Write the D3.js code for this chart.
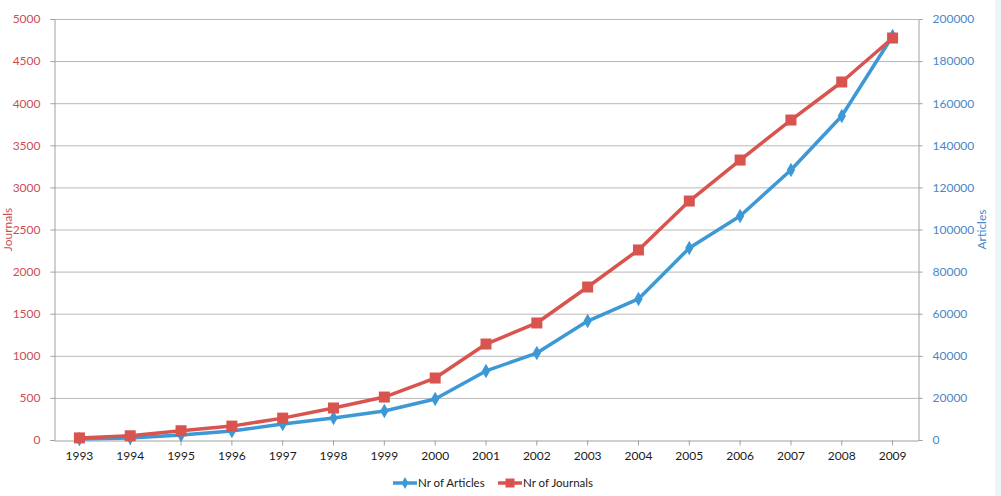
<!DOCTYPE html>
<html><head><meta charset="utf-8">
<script src="https://cdn.jsdelivr.net/npm/d3@7"></script>
<style>body{margin:0;background:#fff;} svg{display:block;font-family:Lato,"Open Sans",sans-serif;}</style>
</head><body>
<svg id="chart" width="1001" height="496"></svg>
<script>
const years = ["1993","1994","1995","1996","1997","1998","1999","2000","2001","2002","2003","2004","2005","2006","2007","2008","2009"];
const journals = [25,50,110,165,260,380,510,736,1140,1390,1817,2257,2838,3325,3800,4252,4774];
const articles = [500,1000,2400,4300,7600,10450,13800,19500,32800,41300,56500,67000,91200,106400,128300,153900,191900];
const leftTicks = [0,500,1000,1500,2000,2500,3000,3500,4000,4500,5000];
const rightTicks = [0,20000,40000,60000,80000,100000,120000,140000,160000,180000,200000];
const seriesNames = ["Nr of Articles","Nr of Journals"];

const svg = d3.select("#chart");
const L = 54, R = 918, T = 19, B = 440;
const red = "#d9534f", blue = "#3d98d6";
const redText = "#cc4f55", blueText = "#4a86c8";
const FONT = "Lato, 'Open Sans', sans-serif";

svg.append("rect").attr("x",995).attr("y",0).attr("width",6).attr("height",496).attr("fill","#eef5f7");

const x = d3.scaleBand().domain(years).range([L,R]);
const yL = d3.scaleLinear().domain([0,5000]).range([B,T]);
const yR = d3.scaleLinear().domain([0,200000]).range([B,T]);

// gridlines
svg.append("g").selectAll("line").data(leftTicks.slice(1)).join("line")
  .attr("x1",L).attr("x2",R).attr("y1",d=>yL(d)+0.5).attr("y2",d=>yL(d)+0.5)
  .attr("stroke","#b8b8b8").attr("stroke-width",1);

// left axis
const gl = svg.append("g").attr("transform",`translate(${L+0.5},0)`)
  .call(d3.axisLeft(yL).tickValues(leftTicks).tickSize(4).tickPadding(10).tickFormat(d3.format("d")));
gl.select(".domain").attr("stroke","#a0a0a0");
gl.selectAll(".tick line").attr("stroke","#a0a0a0");
gl.selectAll(".tick text").attr("fill",redText).attr("font-size",12).attr("font-family",FONT);

// right axis
const gr = svg.append("g").attr("transform",`translate(${R+0.5},0)`)
  .call(d3.axisRight(yR).tickValues(rightTicks).tickSize(4).tickPadding(10).tickFormat(d3.format("d")));
gr.select(".domain").attr("stroke","#a0a0a0");
gr.selectAll(".tick line").attr("stroke","#a0a0a0");
gr.selectAll(".tick text").attr("fill",blueText).attr("font-size",12).attr("font-family",FONT);

// x axis
const gx = svg.append("g").attr("transform",`translate(0,${B+0.5})`)
  .call(d3.axisBottom(x).tickSize(5).tickPadding(6).tickSizeOuter(0));
gx.select(".domain").attr("stroke","#a0a0a0");
gx.selectAll(".tick line").attr("stroke","#a0a0a0");
gx.selectAll(".tick text").attr("fill","#1a1a1a").attr("font-size",12).attr("font-family",FONT);

// axis titles
svg.append("text").attr("transform",`translate(12,${(T+B)/2}) rotate(-90)`).attr("text-anchor","middle")
  .attr("fill",redText).attr("font-size",12).attr("font-family",FONT).text("Journals");
svg.append("text").attr("transform",`translate(986,${(T+B)/2}) rotate(-90)`).attr("text-anchor","middle")
  .attr("fill",blueText).attr("font-size",12).attr("font-family",FONT).text("Articles");

const cx = d => x(d) + x.bandwidth()/2;

// articles line
svg.append("path").datum(articles.map((v,i)=>[years[i],v]))
  .attr("fill","none").attr("stroke",blue).attr("stroke-width",3.5).attr("stroke-linejoin","round")
  .attr("d", d3.line().x(d=>cx(d[0])).y(d=>yR(d[1])));
// journals line
svg.append("path").datum(journals.map((v,i)=>[years[i],v]))
  .attr("fill","none").attr("stroke",red).attr("stroke-width",3.5).attr("stroke-linejoin","round")
  .attr("d", d3.line().x(d=>cx(d[0])).y(d=>yL(d[1])));

const diamond = d3.symbol().type(d3.symbolDiamond).size(60);
svg.append("g").selectAll("path").data(articles).join("path")
  .attr("d",diamond).attr("fill",blue)
  .attr("transform",(d,i)=>`translate(${cx(years[i])},${yR(d)})`);
svg.append("g").selectAll("rect").data(journals).join("rect")
  .attr("x",(d,i)=>cx(years[i])-5.5).attr("y",d=>yL(d)-5.5).attr("width",11).attr("height",11)
  .attr("fill",red);

// legend
const lg = svg.append("g").attr("transform","translate(0,483)").attr("font-family",FONT);
lg.append("line").attr("x1",393).attr("x2",417).attr("y1",0).attr("y2",0).attr("stroke",blue).attr("stroke-width",3.5);
lg.append("path").attr("d",d3.symbol().type(d3.symbolDiamond).size(40)).attr("fill",blue).attr("transform","translate(405,0)");
lg.append("text").attr("x",418).attr("y",4).attr("font-size",11.5).attr("fill","#1a1a1a").text(seriesNames[0]);
lg.append("line").attr("x1",498).attr("x2",522).attr("y1",0).attr("y2",0).attr("stroke",red).attr("stroke-width",3.5);
lg.append("rect").attr("x",505.5).attr("y",-4.5).attr("width",9).attr("height",9).attr("fill",red);
lg.append("text").attr("x",523).attr("y",4).attr("font-size",11.5).attr("fill","#1a1a1a").text(seriesNames[1]);
</script>
</body></html>
